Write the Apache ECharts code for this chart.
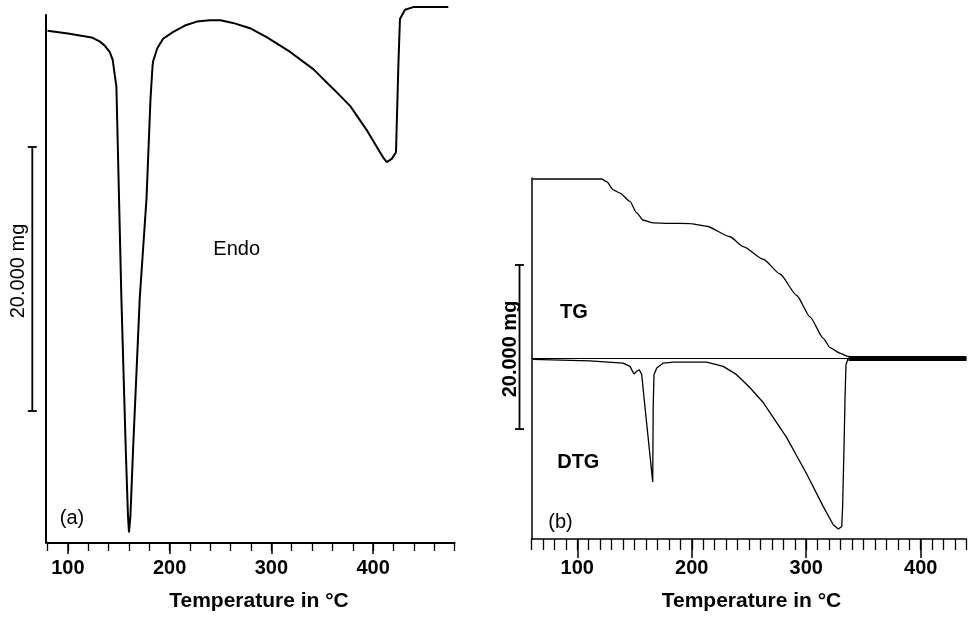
<!DOCTYPE html>
<html>
<head>
<meta charset="utf-8">
<script src="https://cdn.jsdelivr.net/npm/echarts@6/dist/echarts.min.js"></script>
<style>
html,body{margin:0;padding:0;background:#fff}
#main{width:973px;height:617px}
</style>
</head>
<body>
<div id="main"></div>
<script>
// (a) DTA trace, temperature in °C and signal in chart units (20 units = scale bar)
var dtaTemp = [80, 100, 123.4, 131.2, 136, 141.1, 144.1, 146.0, 147.7, 150.3,
    152.6, 156.9, 159.1, 160.1, 161.5, 164.1, 170.7, 177.3, 181.2, 183.2,
    183.8, 188, 193.6, 203.2, 215, 226.8, 239.6, 250, 262.3, 279.0,
    295.8, 318.5, 341.2, 360.9, 377.6, 394.4, 406.8, 410, 413.4, 418.3,
    422.5, 424.8, 426.4, 431.3, 439.5, 473.9]
var dtaSignal = [38.8, 38.6, 38.3, 38.0, 37.7, 37.2, 36.6, 35.5, 34.6, 26.1,
    18.6, 7.1, 2.05, 0.8, 2.05, 7.1, 18.6, 26.1, 33.6, 36.1,
    36.5, 37.5, 38.2, 38.7, 39.2, 39.5, 39.6, 39.6, 39.4, 39.0,
    38.3, 37.2, 35.9, 34.4, 33.1, 31.2, 29.6, 29.2, 28.85, 29.1,
    29.6, 36.1, 39.7, 40.4, 40.6, 40.6]

// (b) TG trace, mass in mg above final residue
var tgTemp = [61, 121.3, 125.7, 131.5, 137.3, 146.0, 151.9, 157.7, 166.4, 180,
    198.5, 213.0, 233.4, 245.0, 262.5, 277.1, 291.7, 303.3, 314.9, 320.8,
    329.5, 336.7, 341.1]
var tgMass = [21.88, 21.88, 21.55, 20.55, 20.15, 19.14, 17.74, 16.85, 16.53, 16.48,
    16.45, 16.12, 14.84, 13.64, 12.10, 10.30, 7.68, 5.07, 2.45, 1.33,
    0.65, 0.25, 0.13]

// (b) DTG trace
var dtgTemp = [61, 111, 140, 146, 149.5, 151.9, 154.2, 156.3, 158.3, 165.9,
    166.3, 167.0, 169.4, 175.1, 183.9, 213.0, 227.5, 239.2, 250.9, 262,
    282.8, 300.3, 314.9, 323.6, 328.0, 331.0, 331.8, 333.0, 333.9, 334.7,
    336.7]
var dtgRate = [-0.1, -0.3, -0.56, -0.96, -1.89, -1.56, -1.37, -1.97, -4.78, -15.04,
    -5.99, -1.97, -1.16, -0.56, -0.44, -0.44, -0.96, -1.97, -3.57, -5.3,
    -9.61, -14.04, -18.05, -20.26, -20.79, -20.47, -18.05, -10.8, -4.78, -0.77,
    0.04]

// noisy overlap of TG and DTG after decomposition
var residueTemp = [337, 440]
var residueVal = [0, 0]

// tick positions of the two temperature scales
var ticksA = [80, 100, 120, 140, 160, 180, 200, 220, 240, 260, 280, 300, 320, 340, 360, 380, 400, 420, 440, 460, 480]
var ticksB = [60, 70, 80, 90, 100, 110, 120, 130, 140, 150, 160, 170, 180, 190, 200, 210, 220, 230, 240, 250,
    260, 270, 280, 290, 300, 310, 320, 330, 340, 350, 360, 370, 380, 390, 400, 410, 420, 430, 440]
var scaleBarA = [10, 30]
var scaleBarB = [-8.6, 11.4]

var FONT = "'Liberation Sans', Arial, sans-serif"

function pairs(xs, ys) {
    return xs.map(function (x, i) { return [x, ys[i]] })
}
function isMajor(i, v) { return Number(v) % 100 === 0 }

var chart = echarts.init(document.getElementById('main'))

// one hidden value axis for the data, two category axes for the minor / major ticks
function xAxes(grid, ticks, majorLen, minorLen, width, margin, nameGap, namePad) {
    var min = ticks[0], max = ticks[ticks.length - 1]
    return [{
        gridIndex: grid, type: 'value', min: min, max: max, show: false,
        axisLine: {onZero: false}, splitLine: {show: false}
    }, {
        gridIndex: grid, type: 'category', data: ticks, boundaryGap: false, position: 'bottom',
        axisLine: {onZero: false, lineStyle: {color: '#000', width: width}},
        axisTick: {interval: 0, length: minorLen, lineStyle: {color: '#000', width: 1.3}},
        axisLabel: {show: false}, splitLine: {show: false}
    }, {
        gridIndex: grid, type: 'category', data: ticks, boundaryGap: false, position: 'bottom',
        axisLine: {show: false, onZero: false},
        axisTick: {interval: isMajor, length: majorLen, lineStyle: {color: '#000', width: 1.5}},
        axisLabel: {interval: isMajor, color: '#000', fontSize: 20, fontWeight: 'bold',
            fontFamily: FONT, margin: margin},
        splitLine: {show: false},
        name: 'Temperature in °C', nameLocation: 'middle', nameGap: nameGap,
        nameTextStyle: {color: '#000', fontSize: 21, fontWeight: 'bold', fontFamily: FONT,
            padding: [0, 0, 0, namePad]}
    }]
}

chart.setOption({
    animation: false,
    backgroundColor: '#fff',
    grid: [
        {left: 47.5, right: 518.5, top: 15, bottom: 69.7},
        {left: 531.5, right: 6.5, top: 178, bottom: 74.3}
    ],
    xAxis: xAxes(0, ticksA, 11, 8, 2, 15, 48, 16).concat(xAxes(1, ticksB, 19, 11, 1.5, 19, 52, 5)),
    yAxis: [
        {gridIndex: 0, type: 'value', min: 0, max: 40, offset: 1.5,
            axisLine: {show: true, onZero: false, lineStyle: {color: '#000', width: 2}},
            axisTick: {show: false}, axisLabel: {show: false}, splitLine: {show: false}},
        {gridIndex: 1, type: 'value', min: -22, max: 22,
            axisLine: {show: true, onZero: false, lineStyle: {color: '#000', width: 1.5}},
            axisTick: {show: false}, axisLabel: {show: false}, splitLine: {show: false}}
    ],
    series: [
        {
            name: 'DTA', type: 'line', xAxisIndex: 0, yAxisIndex: 0,
            data: pairs(dtaTemp, dtaSignal), showSymbol: false, clip: false,
            lineStyle: {color: '#000', width: 2}
        },
        {
            name: 'TG', type: 'line', xAxisIndex: 3, yAxisIndex: 1,
            data: pairs(tgTemp, tgMass), showSymbol: false, smooth: 0.2, smoothMonotone: 'x',
            lineStyle: {color: '#000', width: 1.3},
            markLine: {
                silent: true, symbol: 'none', label: {show: false},
                lineStyle: {color: '#000', width: 1, type: 'solid'},
                data: [{yAxis: 0}]
            }
        },
        {
            name: 'DTG', type: 'line', xAxisIndex: 3, yAxisIndex: 1,
            data: pairs(dtgTemp, dtgRate), showSymbol: false,
            lineStyle: {color: '#000', width: 1.3}
        },
        {
            name: 'residue', type: 'line', xAxisIndex: 3, yAxisIndex: 1,
            data: pairs(residueTemp, residueVal), showSymbol: false,
            lineStyle: {color: '#000', width: 5}
        }
    ]
})

// scale bars and labels
function scaleBar(yAxisIndex, vals, x, w) {
    var y1 = chart.convertToPixel({yAxisIndex: yAxisIndex}, vals[1])
    var y0 = chart.convertToPixel({yAxisIndex: yAxisIndex}, vals[0])
    var ls = {stroke: '#000', lineWidth: 1.8}
    return [
        {type: 'line', shape: {x1: x, y1: y1, x2: x, y2: y0}, style: ls},
        {type: 'line', shape: {x1: x - w, y1: y1, x2: x + w, y2: y1}, style: ls},
        {type: 'line', shape: {x1: x - w, y1: y0, x2: x + w, y2: y0}, style: ls}
    ]
}

function label(text, x, y, opts) {
    opts = opts || {}
    return {
        type: 'text', x: x, y: y, rotation: opts.rotation || 0,
        style: {text: text, fill: '#000', fontSize: opts.size || 20, fontFamily: FONT,
            fontWeight: opts.bold ? 'bold' : 'normal', align: 'center', verticalAlign: 'middle'}
    }
}

chart.setOption({
    graphic: scaleBar(0, scaleBarA, 32.3, 4.5)
        .concat(scaleBar(1, scaleBarB, 519.5, 4.5))
        .concat([
            label('20.000 mg', 18, 271, {rotation: Math.PI / 2}),
            label('20.000 mg', 510, 349, {rotation: Math.PI / 2, bold: true}),
            label('Endo', 236.7, 249),
            label('(a)', 72, 518),
            label('TG', 574, 312, {bold: true}),
            label('DTG', 578.3, 462, {bold: true}),
            label('(b)', 560.5, 522.5)
        ])
})
</script>
</body>
</html>
